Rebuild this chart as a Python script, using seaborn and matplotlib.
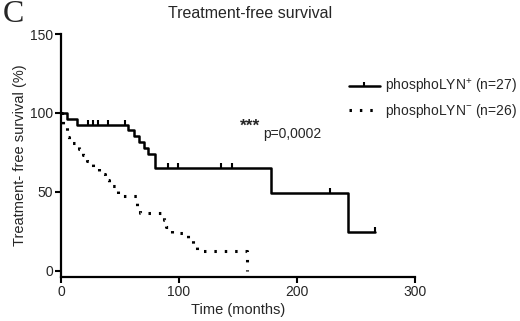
import matplotlib
matplotlib.use("Agg")
import matplotlib.pyplot as plt
import seaborn as sns
import pandas as pd
from matplotlib.lines import Line2D

# ---- data ----
pos_time = [0, 5, 13.6, 57, 62, 66, 70, 74, 80, 177.6, 243, 266]
pos_surv = [100, 96.3, 92.6, 88.9, 85.2, 81.5, 77.8, 74.1, 64.8, 49.4, 24.7, 24.7]
pos_cens_time = [23, 27, 31, 40, 54, 91, 99, 136, 145, 228, 266]
pos_cens_surv = [92.6, 92.6, 92.6, 92.6, 92.6, 64.8, 64.8, 64.8, 64.8, 49.4, 24.7]

neg_time = [0, 1, 2, 5, 6, 7, 15, 19, 22, 27, 32, 37, 41, 48, 64, 67, 87, 89, 94, 108, 112, 115, 158]
neg_surv = [100, 96.2, 92.3, 88.5, 84.6, 80.8, 76.9, 73.1, 69.2, 65.4, 61.5, 57.7, 53.8, 47.5,
            40.4, 36.5, 32.0, 28.0, 24.0, 19.5, 16.0, 12.5, 0.0]

legend_labels = ["phosphoLYN$^{+}$ (n=27)", "phosphoLYN$^{-}$ (n=26)"]
title = "Treatment-free survival"
xlabel = "Time (months)"
ylabel = "Treatment- free survival (%)"
xticks = [0, 100, 200, 300]
yticks = [0, 50, 100, 150]

sns.set_theme(style="ticks")
plt.rcParams["font.family"] = ["Liberation Sans", "DejaVu Sans"]
plt.rcParams["mathtext.fontset"] = "custom"
plt.rcParams["mathtext.rm"] = "Liberation Sans"
plt.rcParams["mathtext.default"] = "regular"

fig = plt.figure(figsize=(5.2, 3.21), dpi=100)
ax = fig.add_axes([61 / 520, 1 - 277 / 321, (415 - 61) / 520, (277 - 34) / 321])

pos_df = pd.DataFrame({"t": pos_time, "s": pos_surv})
neg_df = pd.DataFrame({"t": neg_time, "s": neg_surv})

sns.lineplot(data=pos_df, x="t", y="s", ax=ax, estimator=None, sort=False,
             drawstyle="steps-post", color="black", linewidth=1.8)
sns.lineplot(data=neg_df, x="t", y="s", ax=ax, estimator=None, sort=False,
             drawstyle="steps-post", color="black", linewidth=2.2,
             linestyle=(0, (0.8, 2.6)), dash_capstyle="butt")
cens_df = pd.DataFrame({"t": pos_cens_time, "s": pos_cens_surv})
sns.scatterplot(data=cens_df, x="t", y="s", ax=ax, marker=2, s=14,
                color="black", linewidth=1.5)

ax.set_xlim(0, 300)
ax.set_ylim(-4, 150)
ax.set_xticks(xticks)
ax.set_yticks(yticks)
ax.tick_params(labelsize=10, width=1.5, length=4, color="black", pad=1.5)
for sp in ["left", "bottom"]:
    ax.spines[sp].set_linewidth(1.6)
    ax.spines[sp].set_color("black")
sns.despine(ax=ax)
ax.set_xlabel(xlabel, fontsize=10.5, labelpad=3)
ax.set_ylabel(ylabel, fontsize=10.5, labelpad=2)

fig.text(250 / 520, 1 - 13 / 321, title, ha="center", va="center", fontsize=11.5)
fig.text(3 / 520, 1 - 15 / 321, "C", ha="left", va="center", fontsize=23,
         family="Liberation Serif")

handles = [Line2D([0], [0], color="black", linewidth=1.8, marker=2, markersize=3,
                  markeredgewidth=1.5),
           Line2D([0], [0], color="black", linewidth=2.2, linestyle=(0, (0.8, 2.6)))]
fig.legend(handles, legend_labels, loc="upper left",
           bbox_to_anchor=(349 / 520, 1 - 77 / 321), frameon=False,
           fontsize=10, handlelength=2.2, handletextpad=0.4, labelspacing=0.45,
           borderaxespad=0, borderpad=0)

fig.text(250 / 520, 1 - 126 / 321, "***", ha="center", va="center", fontsize=12.5,
         fontweight="bold")
fig.text(263 / 520, 1 - 134 / 321, "p=0,0002", ha="left", va="center", fontsize=10)

fig.savefig("out.png", dpi=100)
